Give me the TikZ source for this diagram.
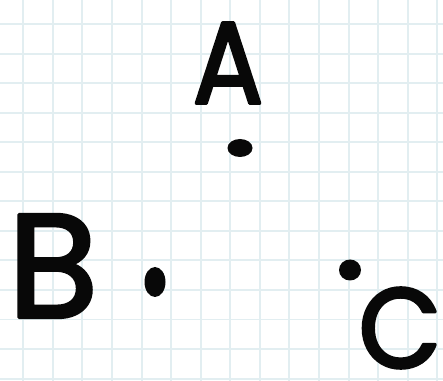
\documentclass[tikz,border=0pt]{standalone}
\usepackage{fontspec}
\setmainfont{Poppins}
\usepackage{tikz}
\usetikzlibrary{positioning}
\definecolor{gridpale}{RGB}{226,238,241}
\definecolor{inkdark}{RGB}{8,8,8}
\newcommand\inkletter[1]{\special{pdf:literal 0.03 g 0.03 G 2 Tr 1 J 1 j 2 w}#1\special{pdf:literal 0 Tr}}

\begin{document}
\begin{tikzpicture}[x=0.02cm,y=-0.02cm,
    letter/.style={inner sep=0pt,text=inkdark,anchor=center}]
  \useasboundingbox (0,0) rectangle (443,381);
  \fill[white] (0,0) rectangle (443,381);
  % squared paper
  \foreach \k in {0,...,14}{
    \draw[gridpale,line width=1.1pt] ({23.3+29.57*\k},0) -- ({23.3+29.57*\k},381);
  }
  \foreach \k in {0,...,12}{
    \draw[gridpale,line width=1.1pt] (0,{24+29.55*\k}) -- (443,{24+29.55*\k});
  }
  \node[letter,xscale=0.9,font=\fontsize{66}{66}\selectfont] (labA) at (228,63) {\inkletter{A}};
  \node[letter,font=\fontsize{84}{84}\selectfont] (labB) at (53,266) {\inkletter{B}};
  \node[letter,xscale=0.95,font=\fontsize{64}{64}\selectfont] (labC) at (400,328) {\inkletter{C}};
  \fill[inkdark] (240,148) ellipse [x radius=12.5,y radius=9];
  \fill[inkdark] (155,282) ellipse [x radius=10.5,y radius=15];
  \fill[inkdark] (350,270) ellipse [x radius=11,y radius=10.5];
\end{tikzpicture}
\end{document}
